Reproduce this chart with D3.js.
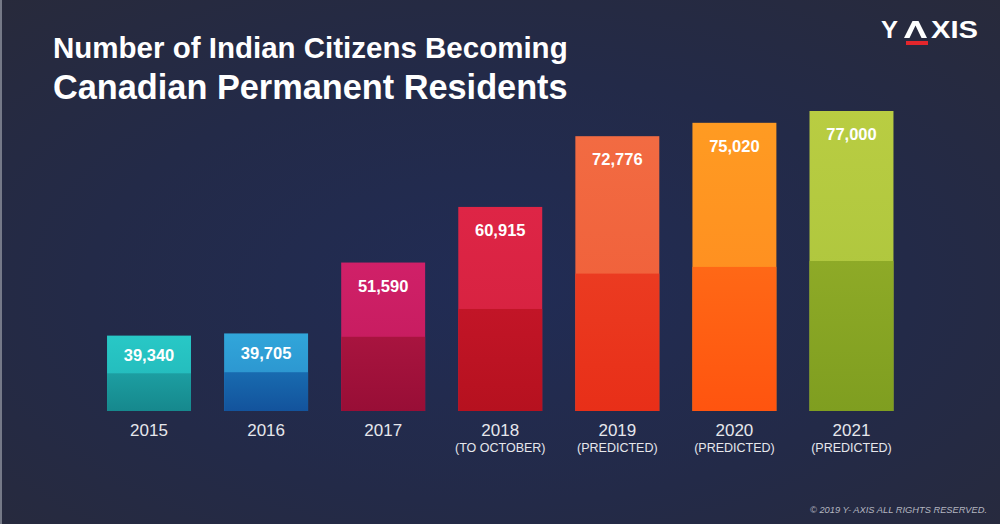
<!DOCTYPE html>
<html><head><meta charset="utf-8">
<script src="https://cdn.jsdelivr.net/npm/d3@7"></script>
<style>html,body{margin:0;padding:0;background:#262a40;}svg{display:block;}</style>
</head><body>
<svg id="chart" width="1000" height="524"></svg>
<script>
const years = ["2015","2016","2017","2018","2019","2020","2021"];
const notes = ["","","","(TO OCTOBER)","(PREDICTED)","(PREDICTED)","(PREDICTED)"];
const values = [39340, 39705, 51590, 60915, 72776, 75020, 77000];
const valueLabels = ["39,340","39,705","51,590","60,915","72,776","75,020","77,000"];
const topColors = [["#28c8c6","#21b3b6"],["#31a6da","#2889c8"],["#d02068","#c01a5a"],["#de2546","#d2213d"],["#f26b42","#ef5a36"],["#ff9b22","#ff861f"],["#b9cd42","#a8c23b"]];
const bottomColors = [["#1c9ea1","#16888d"],["#186bb0","#13539c"],["#a8143f","#980e36"],["#c21527","#b6111f"],["#eb3b21","#e82f18"],["#ff6816","#ff540f"],["#8eaa27","#7f9e20"]];

const svg = d3.select("#chart");
const W = 1000, H = 524;
const defs = svg.append("defs");

const bg = defs.append("radialGradient").attr("id","bg").attr("cx","0.5").attr("cy","0.55").attr("r","0.75");
bg.append("stop").attr("offset","0").attr("stop-color","#212c55");
bg.append("stop").attr("offset","0.55").attr("stop-color","#232a48");
bg.append("stop").attr("offset","1").attr("stop-color","#282a3b");
svg.append("rect").attr("width",W).attr("height",H).attr("fill","url(#bg)");
svg.append("rect").attr("x",0).attr("y",0).attr("width",2).attr("height",H).attr("fill","#8a8d9a").attr("opacity",0.8);

function grad(id, c){
  const g = defs.append("linearGradient").attr("id",id).attr("x1",0).attr("y1",0).attr("x2",0).attr("y2",1);
  g.append("stop").attr("offset",0).attr("stop-color",c[0]);
  g.append("stop").attr("offset",1).attr("stop-color",c[1]);
}
years.forEach((y,i)=>{ grad("t"+i, topColors[i]); grad("b"+i, bottomColors[i]); });

const baseY = 411;
const x = d3.scaleBand().domain(years).range([48.5, 952]).paddingInner(0.283).paddingOuter(0.5);
const y = d3.scaleLinear().domain([26700, 77000]).range([baseY, 111]);

const g = svg.append("g");
const bars = g.selectAll("g.bar").data(values).join("g").attr("class","bar");
bars.append("rect")
  .attr("x",(d,i)=>x(years[i])).attr("width",x.bandwidth())
  .attr("y",d=>y(d)).attr("height",d=>baseY-y(d))
  .attr("fill",(d,i)=>`url(#t${i})`);
bars.append("rect")
  .attr("x",(d,i)=>x(years[i])).attr("width",x.bandwidth())
  .attr("y",d=>(y(d)+baseY)/2).attr("height",d=>(baseY-y(d))/2)
  .attr("fill",(d,i)=>`url(#b${i})`);
bars.append("text")
  .attr("x",(d,i)=>x(years[i])+x.bandwidth()/2)
  .attr("y",d=>y(d)+Math.min(29,(baseY-y(d))/3))
  .attr("text-anchor","middle")
  .attr("font-family","'Liberation Sans', Arial, sans-serif").attr("font-weight","bold")
  .attr("font-size",16.5).attr("fill","#ffffff")
  .text((d,i)=>valueLabels[i]);

const ax = svg.append("g").attr("transform",`translate(0,${baseY})`)
  .call(d3.axisBottom(x).tickSize(0).tickPadding(0));
ax.select(".domain").remove();
ax.selectAll(".tick text").remove();
ax.selectAll(".tick").append("text")
  .attr("y",25).attr("text-anchor","middle")
  .attr("font-family","'Liberation Sans', Arial, sans-serif").attr("font-size",17)
  .attr("fill","#e6e7ec").text(d=>d);
ax.selectAll(".tick").append("text")
  .attr("y",40.5).attr("text-anchor","middle")
  .attr("font-family","'Liberation Sans', Arial, sans-serif").attr("font-size",12.5)
  .attr("fill","#e6e7ec").text((d,i)=>notes[i]);

// title
const title = svg.append("g").attr("font-family","'Liberation Sans', Arial, sans-serif").attr("font-weight","bold").attr("fill","#ffffff");
title.append("text").attr("x",53).attr("y",58).attr("font-size",29.5).text("Number of Indian Citizens Becoming");
title.append("text").attr("x",53).attr("y",99).attr("font-size",34.3).text("Canadian Permanent Residents");

// logo
const logo = svg.append("g").attr("font-family","'Liberation Sans', Arial, sans-serif").attr("font-weight","bold").attr("fill","#ffffff");
logo.append("text").attr("x",881).attr("y",38).attr("font-size",24).attr("textLength",17).attr("lengthAdjust","spacingAndGlyphs").text("Y");
logo.append("path").attr("d","M904,38 L912.5,21 L918.5,21 L927,38 L921.5,38 L915.5,25.5 L909.5,38 Z");
logo.append("text").attr("x",931).attr("y",38).attr("font-size",24).attr("textLength",47).attr("lengthAdjust","spacingAndGlyphs").text("XIS");
svg.append("rect").attr("x",906).attr("y",41).attr("width",22).attr("height",4).attr("fill","#e3262c");

svg.append("text").attr("x",987).attr("y",513).attr("text-anchor","end")
  .attr("font-family","'Liberation Sans', Arial, sans-serif").attr("font-style","italic")
  .attr("font-size",9.3).attr("fill","#b4b6c0")
  .text("© 2019 Y- AXIS  ALL RIGHTS RESERVED.");
</script>
</body></html>
